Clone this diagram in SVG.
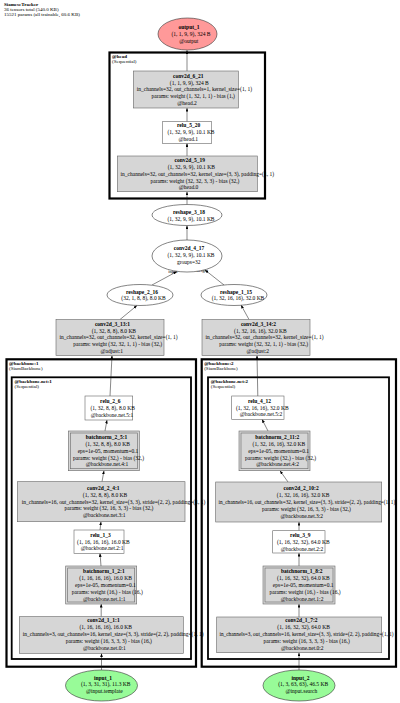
<svg xmlns="http://www.w3.org/2000/svg" width="400" height="703" viewBox="0 0 400 703">
<defs>
<marker id="arr" markerUnits="userSpaceOnUse" markerWidth="3.6" markerHeight="2.8" refX="3.6" refY="1.4" orient="auto">
<path d="M0,0 L3.6,1.4 L0,2.8 z" fill="#000"/>
</marker>
<style>
.t{font-family:"Liberation Serif","Times New Roman",serif;font-size:5.5px;fill:#000}
.m{text-anchor:middle}
.b{font-weight:bold}
.cl{font-size:5px}
.p{fill:#d6d6d6;stroke:#666;stroke-width:0.6}
.w{fill:#fff;stroke:#666;stroke-width:0.6}
.ell{stroke:#333;stroke-width:0.6}
.c1{fill:none;stroke:#000;stroke-width:2.2}
.c2{fill:none;stroke:#000;stroke-width:1.8}
.e{fill:none;stroke:#111;stroke-width:0.5;marker-end:url(#arr)}
.el{font-size:4.5px}
.sm{font-size:5.3px}
</style>
</defs>
<rect width="400" height="703" fill="#fff"/>
<g id="title">
<text class="t b cl" x="4" y="6.2">SiameseTracker</text>
<text class="t cl" x="4" y="11.2">36 tensors total (540.0 KB)</text>
<text class="t cl" x="4" y="16">15521 params (all trainable, 60.6 KB)</text>
</g>
<g id="clusters">
<g id="cluster_head"><rect class="c1" x="109.5" y="52.5" width="155.5" height="146"/>
<text class="t b cl" x="112" y="58.3">@head</text><text class="t cl" x="112" y="63.3">(Sequential)</text></g>
<g id="cluster_backbone1"><rect class="c1" x="6.5" y="359.3" width="189.5" height="307.4"/>
<text class="t b cl" x="9" y="364.5">@backbone:1</text><text class="t cl" x="9" y="369.5">(SiamBackbone)</text></g>
<g id="cluster_backbone_net1"><rect class="c2" x="11.7" y="377.3" width="179.3" height="281.7"/>
<text class="t b cl" x="14.5" y="383">@backbone.net:1</text><text class="t cl" x="14.5" y="388">(Sequential)</text></g>
<g id="cluster_backbone2"><rect class="c1" x="201.7" y="359.3" width="194.3" height="307.4"/>
<text class="t b cl" x="204.2" y="364.5">@backbone:2</text><text class="t cl" x="204.2" y="369.5">(SiamBackbone)</text></g>
<g id="cluster_backbone_net2"><rect class="c2" x="208" y="377.3" width="181" height="281.7"/>
<text class="t b cl" x="210.8" y="383">@backbone.net:2</text><text class="t cl" x="210.8" y="388">(Sequential)</text></g>
</g>
<g id="edges">
<line class="e" x1="187" y1="71" x2="187" y2="50.3"/>
<line class="e" x1="187" y1="121.7" x2="187" y2="108"/>
<line class="e" x1="187" y1="156" x2="187" y2="143.3"/>
<line class="e" x1="187" y1="204.5" x2="187" y2="191.7"/>
<line class="e" x1="187" y1="240" x2="187" y2="225.5"/>
<line class="e" x1="152" y1="285" x2="177" y2="271.5"/>
<line class="e" x1="224" y1="285" x2="205" y2="270"/>
<line class="e" x1="120" y1="319.5" x2="137" y2="305.5"/>
<line class="e" x1="249" y1="319.5" x2="241" y2="305"/>
<line class="e" x1="110" y1="396" x2="112" y2="355.5"/>
<line class="e" x1="257.8" y1="396" x2="257" y2="355.5"/>
<line class="e" x1="101.5" y1="670" x2="101.5" y2="653.3"/>
<line class="e" x1="101.2" y1="616.7" x2="101.2" y2="604"/>
<line class="e" x1="101" y1="566" x2="100" y2="553.3"/>
<line class="e" x1="100" y1="530" x2="101" y2="521.7"/>
<line class="e" x1="102" y1="481.7" x2="104" y2="470.7"/>
<line class="e" x1="105" y1="431" x2="107" y2="420"/>
<line class="e" x1="299" y1="670" x2="299" y2="652.7"/>
<line class="e" x1="299" y1="617" x2="299" y2="604"/>
<line class="e" x1="299" y1="566" x2="299" y2="553"/>
<line class="e" x1="299" y1="530.7" x2="299" y2="522"/>
<line class="e" x1="288" y1="482" x2="280" y2="470.7"/>
<line class="e" x1="268" y1="431" x2="262" y2="419.3"/>
<text class="t m el" x="173" y="272.5">input</text>
<text class="t m el" x="202" y="272">weight</text>
</g>
<g id="output_1"><ellipse class="ell" cx="187.5" cy="34" rx="29.5" ry="16" fill="#ff9999"/>
<text class="t m b" x="189" y="29.1">output_1</text>
<text class="t m" x="191" y="35.9">(1, 1, 9, 9), 324 B</text>
<text class="t m" x="188.8" y="42.7">@output</text></g>
<g id="conv2d_6_21"><rect class="p" x="133.3" y="71" width="105" height="37"/>
<text class="t m b" x="188.3" y="77.8">conv2d_6_21</text>
<text class="t m" x="189.3" y="84.6">(1, 1, 9, 9), 324 B</text>
<text class="t" x="136.7" y="91.4">in_channels=32, out_channels=1, kernel_size=(1, 1)</text>
<text class="t m" x="193.2" y="98.2">params: weight (1, 32, 1, 1) - bias (1,)</text>
<text class="t m" x="187.1" y="105">@head.2</text></g>
<g id="relu_5_20"><rect class="w" x="162.3" y="121.7" width="49.4" height="21.6"/>
<text class="t m b" x="188.6" y="127.4">relu_5_20</text>
<text class="t m" x="191" y="134.2">(1, 32, 9, 9), 10.1 KB</text>
<text class="t m" x="188.3" y="141">@head.1</text></g>
<g id="conv2d_5_19"><rect class="p" x="117.3" y="156" width="140" height="35.7"/>
<text class="t m b" x="189.8" y="162.1">conv2d_5_19</text>
<text class="t m" x="191.3" y="168.9">(1, 32, 9, 9), 10.1 KB</text>
<text class="t" x="120.5" y="175.7">in_channels=32, out_channels=32, kernel_size=(3, 3), padding=(1, 1)</text>
<text class="t m" x="195" y="182.5">params: weight (32, 32, 3, 3) - bias (32,)</text>
<text class="t m" x="188.6" y="189.3">@head.0</text></g>
<g id="reshape_3_18"><ellipse class="ell" cx="187" cy="215" rx="35" ry="10.5" fill="#fff"/>
<text class="t m b" x="189" y="213.7">reshape_3_18</text>
<text class="t m" x="191" y="220.5">(1, 32, 9, 9), 10.1 KB</text></g>
<g id="conv2d_4_17"><ellipse class="ell" cx="187" cy="256" rx="35" ry="16" fill="#fff"/>
<text class="t m b" x="189" y="250.1">conv2d_4_17</text>
<text class="t m" x="191" y="256.9">(1, 32, 9, 9), 10.1 KB</text>
<text class="t m" x="188.7" y="263.7">groups=32</text></g>
<g id="reshape_2_16"><ellipse class="ell" cx="140" cy="295" rx="33" ry="10.5" fill="#fff"/>
<text class="t m b" x="142" y="293.6">reshape_2_16</text>
<text class="t m" x="143.5" y="300.4">(32, 1, 8, 8), 8.0 KB</text></g>
<g id="reshape_1_15"><ellipse class="ell" cx="234" cy="295" rx="33" ry="10.5" fill="#fff"/>
<text class="t m b" x="236" y="293.6">reshape_1_15</text>
<text class="t m" x="238" y="300.4">(1, 32, 16, 16), 32.0 KB</text></g>
<g id="conv2d_3_13_1"><rect class="p" x="56" y="319.5" width="108" height="36"/>
<text class="t m b" x="112.5" y="325.8">conv2d_3_13:1</text>
<text class="t m" x="113.9" y="332.6">(1, 32, 8, 8), 8.0 KB</text>
<text class="t" x="59.5" y="339.4">in_channels=32, out_channels=32, kernel_size=(1, 1)</text>
<text class="t m" x="117.7" y="346.2">params: weight (32, 32, 1, 1) - bias (32,)</text>
<text class="t m" x="111.7" y="353">@adjust:1</text></g>
<g id="conv2d_3_14_2"><rect class="p" x="202" y="319.5" width="108" height="36"/>
<text class="t m b" x="258.5" y="325.8">conv2d_3_14:2</text>
<text class="t m" x="260.4" y="332.6">(1, 32, 16, 16), 32.0 KB</text>
<text class="t" x="205.5" y="339.4">in_channels=32, out_channels=32, kernel_size=(1, 1)</text>
<text class="t m" x="263.7" y="346.2">params: weight (32, 32, 1, 1) - bias (32,)</text>
<text class="t m" x="257.7" y="353">@adjust:2</text></g>
<g id="relu_2_6"><rect class="w" x="85" y="396" width="47.7" height="24"/>
<text class="t m b" x="110.3" y="402.9">relu_2_6</text>
<text class="t m" x="112.7" y="409.7">(1, 32, 8, 8), 8.0 KB</text>
<text class="t m" x="112" y="416.5">@backbone.net.5:1</text></g>
<g id="batchnorm_2_5_1"><rect class="p" x="68.3" y="431" width="71" height="39.7"/><rect fill="none" stroke="#666" stroke-width="0.6" x="70.3" y="433" width="67" height="35.7"/>
<text class="t m b" x="106.5" y="439.2">batchnorm_2_5:1</text>
<text class="t m" x="107.7" y="446">(1, 32, 8, 8), 8.0 KB</text>
<text class="t m" x="108" y="452.8">eps=1e-05, momentum=0.1</text>
<text class="t m" x="108.5" y="459.6">params: weight (32,) - bias (32,)</text>
<text class="t m" x="107" y="466.4">@backbone.net.4:1</text></g>
<g id="conv2d_2_4_1"><rect class="p" x="17.3" y="481.7" width="167.7" height="40"/>
<text class="t m b" x="103.3" y="490">conv2d_2_4:1</text>
<text class="t m" x="105" y="496.8">(1, 32, 8, 8), 8.0 KB</text>
<text class="t" x="21.7" y="503.6">in_channels=16, out_channels=32, kernel_size=(3, 3), stride=(2, 2), padding=(1, 1)</text>
<text class="t m" x="108.9" y="510.4">params: weight (32, 16, 3, 3) - bias (32,)</text>
<text class="t m" x="104.3" y="517.2">@backbone.net.3:1</text></g>
<g id="relu_1_3"><rect class="w" x="74" y="530" width="50" height="23.3"/>
<text class="t m b" x="100.5" y="536.7">relu_1_3</text>
<text class="t m" x="103.4" y="543.5">(1, 16, 16, 16), 16.0 KB</text>
<text class="t m" x="102.1" y="550.3">@backbone.net.2:1</text></g>
<g id="batchnorm_1_2_1"><rect class="p" x="65.7" y="566" width="71" height="38"/><rect fill="none" stroke="#666" stroke-width="0.6" x="67.7" y="568" width="67" height="34"/>
<text class="t m b" x="103.9" y="573.3">batchnorm_1_2:1</text>
<text class="t m" x="105.6" y="580.1">(1, 16, 16, 16), 16.0 KB</text>
<text class="t m" x="105.4" y="586.9">eps=1e-05, momentum=0.1</text>
<text class="t m" x="107.3" y="593.7">params: weight (16,) - bias (16,)</text>
<text class="t m" x="104.3" y="600.5">@backbone.net.1:1</text></g>
<g id="conv2d_1_1_1"><rect class="p" x="19.3" y="616.7" width="164" height="36.6"/>
<text class="t m b" x="103.5" y="622.3">conv2d_1_1:1</text>
<text class="t m" x="105.7" y="629.1">(1, 16, 16, 16), 16.0 KB</text>
<text class="t" x="22.7" y="635.9">in_channels=3, out_channels=16, kernel_size=(3, 3), stride=(2, 2), padding=(1, 1)</text>
<text class="t m" x="108.8" y="642.7">params: weight (16, 3, 3, 3) - bias (16,)</text>
<text class="t m" x="104.4" y="649.5">@backbone.net.0:1</text></g>
<g id="input_1"><ellipse class="ell" cx="101.5" cy="685.5" rx="36" ry="15.5" fill="#98fb98"/>
<text class="t m b" x="103" y="679.6">input_1</text>
<text class="t m" x="105.7" y="686.4">(1, 3, 31, 31), 11.3 KB</text>
<text class="t m" x="104.3" y="693.2">@input.template</text></g>
<g id="relu_4_12"><rect class="w" x="231.7" y="396" width="52.3" height="23.3"/>
<text class="t m b" x="259.5" y="402.7">relu_4_12</text>
<text class="t m" x="262.3" y="409.5">(1, 32, 16, 16), 32.0 KB</text>
<text class="t m" x="261" y="416.3">@backbone.net.5:2</text></g>
<g id="batchnorm_2_11_2"><rect class="p" x="239" y="431" width="71" height="39.7"/><rect fill="none" stroke="#666" stroke-width="0.6" x="241" y="433" width="67" height="35.7"/>
<text class="t m b" x="277.3" y="439.2">batchnorm_2_11:2</text>
<text class="t m" x="278.9" y="446">(1, 32, 16, 16), 32.0 KB</text>
<text class="t m" x="278.7" y="452.8">eps=1e-05, momentum=0.1</text>
<text class="t m" x="280.6" y="459.6">params: weight (32,) - bias (32,)</text>
<text class="t m" x="277.6" y="466.4">@backbone.net.4:2</text></g>
<g id="conv2d_2_10_2"><rect class="p" x="215.7" y="482" width="166" height="40"/>
<text class="t m b" x="301.1" y="490.3">conv2d_2_10:2</text>
<text class="t m" x="303.1" y="497.1">(1, 32, 16, 16), 32.0 KB</text>
<text class="t sm" x="218.5" y="503.9">in_channels=16, out_channels=32, kernel_size=(3, 3), stride=(2, 2), padding=(1, 1)</text>
<text class="t m" x="306.4" y="510.7">params: weight (32, 16, 3, 3) - bias (32,)</text>
<text class="t m" x="301.8" y="517.5">@backbone.net.3:2</text></g>
<g id="relu_3_9"><rect class="w" x="272.7" y="530.7" width="52.3" height="22.3"/>
<text class="t m b" x="300.3" y="536.9">relu_3_9</text>
<text class="t m" x="303.3" y="543.7">(1, 16, 32, 32), 64.0 KB</text>
<text class="t m" x="302" y="550.5">@backbone.net.2:2</text></g>
<g id="batchnorm_1_8_2"><rect class="p" x="263" y="566" width="72" height="38"/><rect fill="none" stroke="#666" stroke-width="0.6" x="265" y="568" width="68" height="34"/>
<text class="t m b" x="301.8" y="573.3">batchnorm_1_8:2</text>
<text class="t m" x="303.4" y="580.1">(1, 16, 32, 32), 64.0 KB</text>
<text class="t m" x="303.2" y="586.9">eps=1e-05, momentum=0.1</text>
<text class="t m" x="305.1" y="593.7">params: weight (16,) - bias (16,)</text>
<text class="t m" x="302.1" y="600.5">@backbone.net.1:2</text></g>
<g id="conv2d_1_7_2"><rect class="p" x="216.7" y="617" width="165" height="35.7"/>
<text class="t m b" x="301.4" y="622.3">conv2d_1_7:2</text>
<text class="t m" x="303.6" y="629.1">(1, 16, 32, 32), 64.0 KB</text>
<text class="t sm" x="219.5" y="635.9">in_channels=3, out_channels=16, kernel_size=(3, 3), stride=(2, 2), padding=(1, 1)</text>
<text class="t m" x="306.7" y="642.7">params: weight (16, 3, 3, 3) - bias (16,)</text>
<text class="t m" x="302.3" y="649.5">@backbone.net.0:2</text></g>
<g id="input_2"><ellipse class="ell" cx="299" cy="685.5" rx="36" ry="15.5" fill="#98fb98"/>
<text class="t m b" x="300.5" y="679.6">input_2</text>
<text class="t m" x="303.2" y="686.4">(1, 3, 63, 63), 46.5 KB</text>
<text class="t m" x="301.4" y="693.2">@input.search</text></g>
</svg>
